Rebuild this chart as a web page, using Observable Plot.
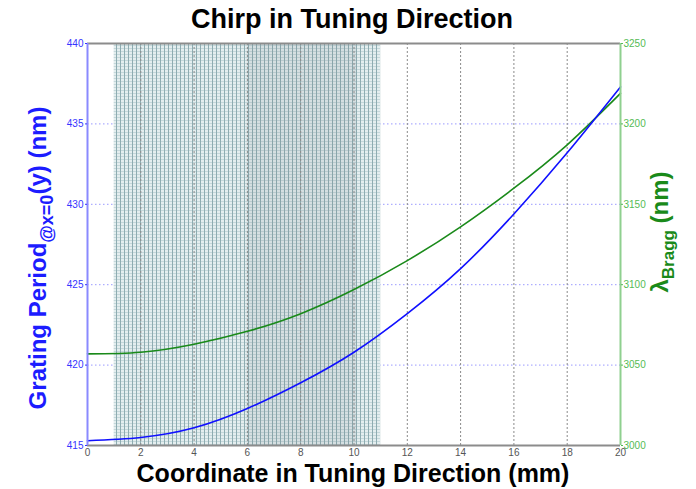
<!DOCTYPE html>
<html>
<head>
<meta charset="utf-8">
<script src="https://cdn.jsdelivr.net/npm/d3@7"></script>
<script src="https://cdn.jsdelivr.net/npm/@observablehq/plot@0.6"></script>
<style>
  body { margin: 0; background: #fff; font-family: "Liberation Sans", Arial, sans-serif; }
  #title { width: 696px; height: 36px; line-height: 38px; text-align: center; font-weight: bold; font-size: 27px; color: #000; padding-left: 8px; box-sizing: border-box; }
</style>
</head>
<body>
<div id="title">Chirp in Tuning Direction</div>
<div id="chart"></div>
<script>
// Coordinate in tuning direction (mm)
const xs = [0, 2, 4, 6, 8, 10, 12, 14, 16, 18, 20];
// Grating period @x=0 (nm), left axis
const period = [415.3, 415.5, 416.1, 417.3, 418.9, 420.8, 423.2, 426.0, 429.4, 433.2, 437.3];
// Bragg wavelength (nm), right axis
const bragg = [3057, 3058, 3063, 3071, 3082, 3097, 3115, 3136, 3160, 3187, 3219];
// shaded tuning band (mm)
const band = [1, 11];
const denseBand = [6, 10.1];
const xTicks = [0, 2, 4, 6, 8, 10, 12, 14, 16, 18, 20];
const leftTicks = [415, 420, 425, 430, 435, 440];
const rightTicks = [3000, 3050, 3100, 3150, 3200, 3250];

// map right-axis values onto left-axis scale
const toLeft = v => 415 + (v - 3000) / 10;
const toRight = d => String(rightTicks[leftTicks.indexOf(d)]);

const periodData = xs.map((x, i) => ({x, y: period[i]}));
const braggData = xs.map((x, i) => ({x, y: toLeft(bragg[i])}));

const chart = Plot.plot({
  width: 696,
  height: 453,
  marginTop: 7,
  marginBottom: 44,
  marginLeft: 87,
  marginRight: 76,
  style: {fontFamily: "'Liberation Sans', Arial, sans-serif", background: "#fff"},
  x: {domain: [0, 20]},
  y: {domain: [415, 440]},
  marks: [
    Plot.ruleY(leftTicks.slice(1, -1), {stroke: "#9a9aff", strokeWidth: 1, strokeDasharray: "1.5,2.5"}),
    Plot.rect([{x1: band[0], x2: band[1]}], {x1: "x1", x2: "x2", y1: 415, y2: 440, fill: "url(#shade)"}),
    Plot.rect([{x1: denseBand[0], x2: denseBand[1]}], {x1: "x1", x2: "x2", y1: 415, y2: 440, fill: "#6a7479", fillOpacity: 0.12}),
    Plot.ruleX(xTicks.slice(1, -1), {stroke: "#8a8a8a", strokeWidth: 1, strokeDasharray: "2,2"}),
    Plot.line(braggData, {x: "x", y: "y", stroke: "#1a8a1a", strokeWidth: 1.6, curve: "natural"}),
    Plot.line(periodData, {x: "x", y: "y", stroke: "#1010ff", strokeWidth: 1.6, curve: "natural"}),
    Plot.ruleY([440], {stroke: "#8c8c8c", strokeWidth: 2}),
    Plot.ruleY([415], {stroke: "#8c8c8c", strokeWidth: 2}),
    Plot.ruleX([0], {stroke: "#8a8aff", strokeWidth: 2}),
    Plot.ruleX([20], {stroke: "#8fd08f", strokeWidth: 2}),
    Plot.axisY({anchor: "left", ticks: leftTicks, tickSize: 2, tickPadding: 2, color: "#3535ff", fontSize: 10, label: null}),
    Plot.axisY({anchor: "right", ticks: leftTicks, tickFormat: toRight, tickSize: 2, tickPadding: 1, color: "#55bb55", fontSize: 10, label: null}),
    Plot.axisX({ticks: xTicks, tickSize: 0, tickPadding: 3, color: "#555", fontSize: 10, label: null})
  ]
});

const svg = d3.select(chart);
const defs = svg.insert("defs", ":first-child");
const pat = defs.append("pattern").attr("id", "shade").attr("patternUnits", "userSpaceOnUse")
  .attr("width", 4).attr("height", 3).attr("x", 0).attr("y", 0);
pat.append("rect").attr("width", 4).attr("height", 3).attr("fill", "#e4eeef");
pat.append("rect").attr("x", 0).attr("y", 0).attr("width", 4).attr("height", 1).attr("fill", "#c4d7da");
pat.append("rect").attr("x", 0).attr("y", 0).attr("width", 1).attr("height", 3).attr("fill", "#8eacb1");

// left axis label
const lt = svg.append("text")
  .attr("transform", "translate(46,222) rotate(-90)")
  .attr("text-anchor", "middle")
  .attr("fill", "#1c1cff")
  .attr("font-weight", "bold")
  .attr("font-size", 24);
lt.append("tspan").text("Grating Period");
lt.append("tspan").attr("dy", 7).attr("font-size", 18).text("@x=0");
lt.append("tspan").attr("dy", -7).text("(y) (nm)");

// right axis label
const rt = svg.append("text")
  .attr("transform", "translate(668,196) rotate(-90)")
  .attr("text-anchor", "middle")
  .attr("fill", "#1a8a1a")
  .attr("font-weight", "bold")
  .attr("font-size", 24);
rt.append("tspan").text("λ");
rt.append("tspan").attr("dy", 6).attr("font-size", 17).text("Bragg");
rt.append("tspan").attr("dy", -6).text(" (nm)");

// x axis label
svg.append("text")
  .attr("x", 353).attr("y", 446)
  .attr("text-anchor", "middle")
  .attr("fill", "#000")
  .attr("font-weight", "bold")
  .attr("font-size", 25)
  .text("Coordinate in Tuning Direction (mm)");

document.getElementById("chart").appendChild(chart);
</script>
</body>
</html>
